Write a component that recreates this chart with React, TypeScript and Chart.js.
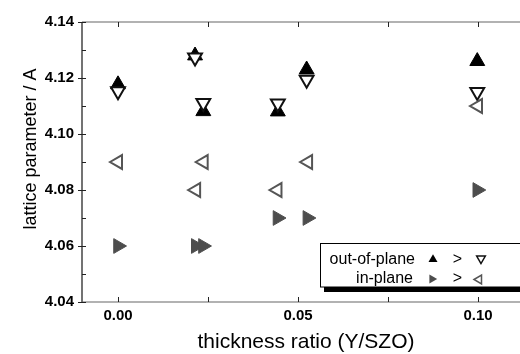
import React, { useEffect, useRef } from 'react';
import { Chart, registerables } from 'chart.js';

Chart.register(...registerables);

const FONT = '"Liberation Sans", Arial, Helvetica, sans-serif';

const xTickValues = [0, 0.025, 0.05, 0.075, 0.1];
const xTickLabels = ['0.00', '', '0.05', '', '0.10'];
const yTickValues = [4.04, 4.05, 4.06, 4.07, 4.08, 4.09, 4.1, 4.11, 4.12, 4.13, 4.14];
const yTickLabels = ['4.04', '', '4.06', '', '4.08', '', '4.10', '', '4.12', '', '4.14'];
const yMajor = [true, false, true, false, true, false, true, false, true, false, true];

const xTitle = 'thickness ratio (Y/SZO)';
const yTitle = 'lattice parameter / A';

// out-of-plane, filled up triangles
const outUpX = [0.0, 0.0214, 0.0237, 0.0444, 0.0524, 0.0998];
const outUpY = [4.1177, 4.128, 4.1081, 4.108, 4.123, 4.126];
// out-of-plane, open down triangles
const outDownX = [0.0, 0.0214, 0.0237, 0.0444, 0.0524, 0.0998];
const outDownY = [4.1153, 4.1273, 4.1111, 4.1109, 4.1194, 4.115];
// in-plane, filled right triangles
const inRightX = [0.0, 0.0216, 0.0236, 0.0443, 0.0526, 0.0998];
const inRightY = [4.06, 4.06, 4.06, 4.07, 4.07, 4.08];
// in-plane, open left triangles
const inLeftX = [0.0, 0.0217, 0.0238, 0.0443, 0.0528, 0.1];
const inLeftY = [4.09, 4.08, 4.09, 4.08, 4.09, 4.11];

const legendRows = [
  { label: 'out-of-plane', rel: '>' },
  { label: 'in-plane', rel: '>' },
];

const zip = (xs: number[], ys: number[]) => xs.map((x, i) => ({ x, y: ys[i] }));

function tri(ctx: CanvasRenderingContext2D, x: number, y: number, r: number, rotDeg: number) {
  let rad = (rotDeg * Math.PI) / 180;
  ctx.beginPath();
  for (let k = 0; k < 3; k++) {
    const px = x + Math.sin(rad) * r;
    const py = y - Math.cos(rad) * r;
    if (k === 0) ctx.moveTo(px, py);
    else ctx.lineTo(px, py);
    rad += (2 * Math.PI) / 3;
  }
  ctx.closePath();
}

const framePlugin = {
  id: 'frame',
  beforeDatasetsDraw(chart: any) {
    const { ctx, chartArea } = chart;
    const { left, right, top, bottom } = chartArea;
    const xs = chart.scales.x;
    const ys = chart.scales.y;
    ctx.save();
    ctx.strokeStyle = '#444';
    ctx.lineWidth = 1.5;
    ctx.beginPath();
    ctx.moveTo(left, top);
    ctx.lineTo(left, bottom);
    ctx.stroke();
    ctx.strokeStyle = '#666';
    ctx.lineWidth = 1.2;
    ctx.beginPath();
    ctx.moveTo(left, top);
    ctx.lineTo(right, top);
    ctx.lineTo(right, bottom);
    ctx.lineTo(left, bottom);
    ctx.stroke();
    ctx.strokeStyle = '#222';
    ctx.lineWidth = 1;
    ctx.beginPath();
    xTickValues.forEach((v) => {
      const px = Math.round(xs.getPixelForValue(v)) + 0.5;
      ctx.moveTo(px, bottom);
      ctx.lineTo(px, bottom - 5);
      ctx.moveTo(px, top);
      ctx.lineTo(px, top + 5);
    });
    yTickValues.forEach((v, i) => {
      const py = Math.round(ys.getPixelForValue(v)) + 0.5;
      ctx.moveTo(left + 4, py);
      ctx.lineTo(yMajor[i] ? left - 4 : left, py);
    });
    ctx.stroke();

    // axis titles
    ctx.fillStyle = '#000';
    ctx.font = `21px ${FONT}`;
    ctx.textAlign = 'center';
    ctx.textBaseline = 'middle';
    ctx.fillText(xTitle, 306, 342);
    ctx.translate(31, 149);
    ctx.rotate(-Math.PI / 2);
    ctx.font = `18px ${FONT}`;
    ctx.fillText(yTitle, 0, 0);
    ctx.restore();
  },
  afterDraw(chart: any) {
    const { ctx } = chart;
    ctx.save();
    // shadow
    ctx.fillStyle = '#000';
    ctx.fillRect(324, 248, 300, 44);
    ctx.fillStyle = '#fff';
    ctx.fillRect(320.5, 243.5, 300, 43.5);
    ctx.strokeStyle = '#000';
    ctx.lineWidth = 1;
    ctx.strokeRect(320.5, 243.5, 300, 43.5);

    ctx.fillStyle = '#000';
    ctx.font = `16px ${FONT}`;
    ctx.textBaseline = 'alphabetic';
    ctx.textAlign = 'right';
    ctx.fillText(legendRows[0].label, 415, 264);
    ctx.fillText(legendRows[1].label, 413, 283);
    ctx.textAlign = 'center';
    ctx.fillText(legendRows[0].rel, 457.5, 264);
    ctx.fillText(legendRows[1].rel, 457.5, 283);

    // symbols
    ctx.fillStyle = '#000';
    tri(ctx, 433, 259.5, 5.2, 0);
    ctx.fill();
    ctx.strokeStyle = '#111';
    ctx.lineWidth = 1.5;
    tri(ctx, 481, 258.5, 5, 180);
    ctx.stroke();
    ctx.fillStyle = '#4d4d4d';
    tri(ctx, 432, 279, 5.2, 90);
    ctx.fill();
    ctx.strokeStyle = '#555';
    tri(ctx, 479, 279.5, 5, 270);
    ctx.stroke();
    ctx.restore();
  },
};

export default function App() {
  const ref = useRef<HTMLCanvasElement | null>(null);
  useEffect(() => {
    if (!ref.current) return;
    const chart = new Chart(ref.current, {
      type: 'scatter',
      data: {
        datasets: [
          {
            label: 'in-plane open',
            data: zip(inLeftX, inLeftY),
            pointStyle: 'triangle',
            rotation: 270,
            pointRadius: 8,
            borderWidth: 2,
            borderColor: '#555',
            backgroundColor: '#fff',
            order: 0,
          },
          {
            label: 'out-of-plane open',
            data: zip(outDownX, outDownY),
            pointStyle: 'triangle',
            rotation: 180,
            pointRadius: 8,
            borderWidth: 2,
            borderColor: '#111',
            backgroundColor: '#fff',
            order: 1,
          },
          {
            label: 'out-of-plane filled',
            data: zip(outUpX, outUpY),
            pointStyle: 'triangle',
            rotation: 0,
            pointRadius: 8.6,
            borderWidth: 1,
            borderColor: '#000',
            backgroundColor: '#000',
            order: 2,
          },
          {
            label: 'in-plane filled',
            data: zip(inRightX, inRightY),
            pointStyle: 'triangle',
            rotation: 90,
            pointRadius: 8.5,
            borderWidth: 1,
            borderColor: '#4d4d4d',
            backgroundColor: '#4d4d4d',
            order: 3,
          },
        ],
      },
      options: {
        animation: false,
        responsive: false,
        devicePixelRatio: 1,
        events: [],
        layout: { padding: { left: 0, right: 28, top: 22, bottom: 0 } },
        plugins: {
          legend: { display: false },
          tooltip: { enabled: false },
        },
        scales: {
          x: {
            type: 'linear',
            min: -0.01,
            max: 0.115,
            grid: { display: false, drawTicks: false },
            border: { display: false },
            afterBuildTicks: (scale: any) => {
              scale.ticks = xTickValues.map((v) => ({ value: v }));
            },
            afterFit: (scale: any) => {
              scale.height = 52;
            },
            ticks: {
              autoSkip: false,
              maxRotation: 0,
              padding: 5,
              color: '#000',
              font: { family: FONT, size: 15, weight: 'bold' },
              callback: (_v: any, i: number) => xTickLabels[i],
            },
          },
          y: {
            type: 'linear',
            min: 4.04,
            max: 4.14,
            grid: { display: false, drawTicks: false },
            border: { display: false },
            afterBuildTicks: (scale: any) => {
              scale.ticks = yTickValues.map((v) => ({ value: v }));
            },
            afterFit: (scale: any) => {
              scale.width = 82;
            },
            ticks: {
              autoSkip: false,
              padding: 8,
              color: '#000',
              font: { family: FONT, size: 15, weight: 'bold' },
              callback: (_v: any, i: number) => yTickLabels[i],
            },
          },
        },
      },
      plugins: [framePlugin],
    } as any);
    return () => chart.destroy();
  }, []);
  return (
    <div
      style={{
        position: 'absolute',
        left: 0,
        top: 0,
        width: 520,
        height: 354,
        overflow: 'hidden',
        background: '#fff',
      }}
    >
      <canvas ref={ref} width={560} height={354} style={{ display: 'block' }} />
    </div>
  );
}
